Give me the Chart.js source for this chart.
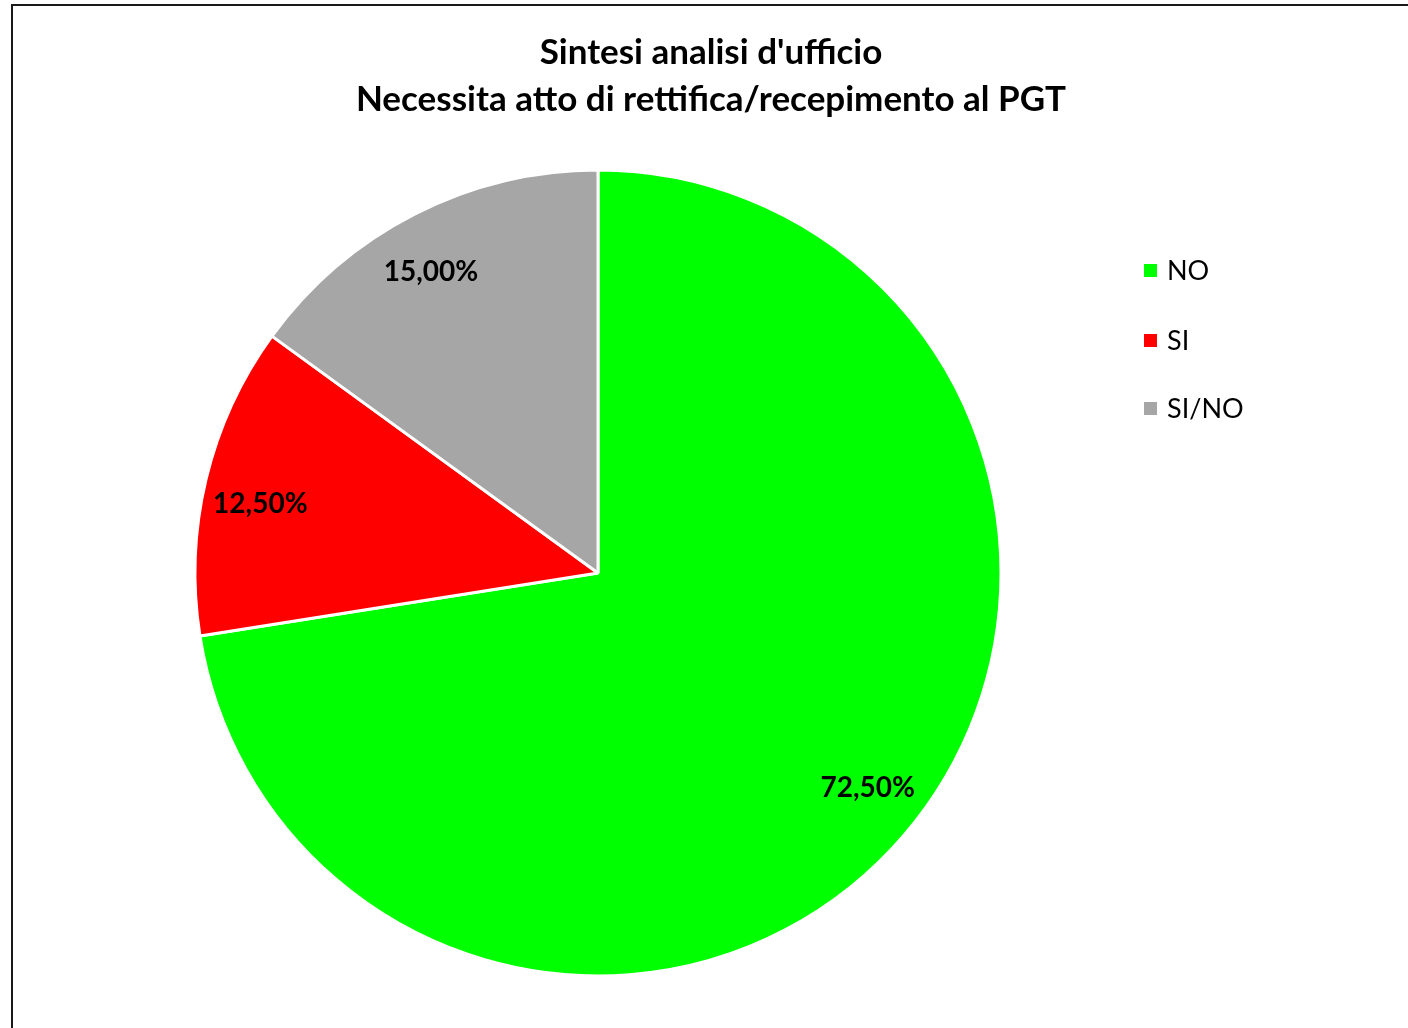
<!DOCTYPE html>
<html>
<head>
<meta charset="utf-8">
<script src="https://cdn.jsdelivr.net/npm/chart.js@4"></script>
<style>
  html, body { margin: 0; padding: 0; background: #fff; overflow: hidden; }
  #wrap { position: relative; width: 1408px; height: 1028px; }
  #frame { position: absolute; left: 11px; top: 4px; width: 1500px; height: 1100px;
           border: 2px solid #1a1a1a; box-sizing: border-box; pointer-events: none; }
  canvas { position: absolute; left: 0; top: 0; }
</style>
</head>
<body>
<div id="wrap">
  <canvas id="c" width="1408" height="1028"></canvas>
  <div id="frame"></div>
</div>
<script>
const titleLines = ["Sintesi analisi d'ufficio", "Necessita atto di rettifica/recepimento al PGT"];
const categories = ["NO", "SI", "SI/NO"];
const values = [72.5, 12.5, 15.0];
const valueLabels = ["72,50%", "12,50%", "15,00%"];
const colors = ["#00FF00", "#FF0000", "#A6A6A6"];

const FONT = "Lato, 'Open Sans', sans-serif";

const overlay = {
  id: 'overlay',
  afterDraw(chart) {
    const ctx = chart.ctx;
    ctx.save();
    // title
    ctx.fillStyle = '#000';
    ctx.textAlign = 'center';
    ctx.textBaseline = 'alphabetic';
    ctx.font = "bold 35px " + FONT;
    ctx.fillText(titleLines[0], 711, 64);
    ctx.fillText(titleLines[1], 711, 111);

    // data labels
    const meta = chart.getDatasetMeta(0);
    ctx.font = "bold 28px " + FONT;
    ctx.textBaseline = 'middle';
    meta.data.forEach((arc, i) => {
      const p = arc.getProps(['x', 'y', 'startAngle', 'endAngle', 'outerRadius'], true);
      const mid = (p.startAngle + p.endAngle) / 2 - 0.035;
      const r = p.outerRadius * 0.855;
      ctx.fillText(valueLabels[i], p.x + Math.cos(mid) * r, p.y + Math.sin(mid) * r);
    });

    // legend
    ctx.textAlign = 'left';
    ctx.font = "27px " + FONT;
    const ys = [270, 340, 408];
    categories.forEach((lab, i) => {
      ctx.fillStyle = colors[i];
      ctx.fillRect(1144, ys[i] - 6, 13, 13);
      ctx.fillStyle = '#000';
      ctx.fillText(lab, 1167, ys[i] + 1);
    });
    ctx.restore();
  }
};

new Chart(document.getElementById('c'), {
  type: 'pie',
  data: {
    labels: categories,
    datasets: [{
      data: values,
      backgroundColor: colors,
      borderColor: '#ffffff',
      borderWidth: 3,
      radius: 403
    }]
  },
  options: {
    responsive: false,
    animation: false,
    layout: { padding: { left: 0, right: 212, top: 160, bottom: 42 } },
    plugins: {
      legend: { display: false },
      title: { display: false },
      tooltip: { enabled: false }
    }
  },
  plugins: [overlay]
});
</script>
</body>
</html>
